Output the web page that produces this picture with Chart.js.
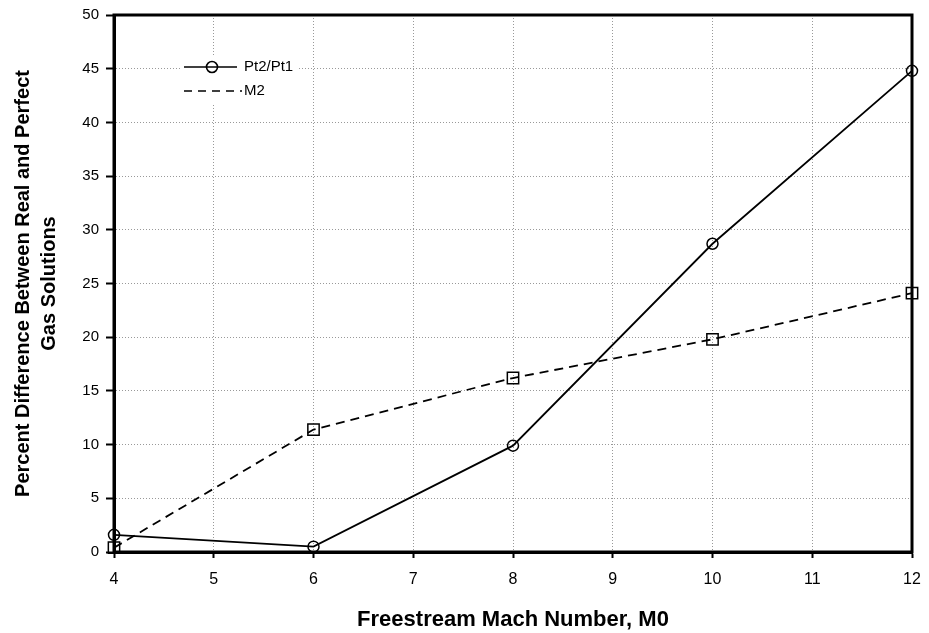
<!DOCTYPE html>
<html>
<head>
<meta charset="utf-8">
<script src="https://cdn.jsdelivr.net/npm/chart.js@4/dist/chart.umd.min.js"></script>
<style>
html,body{margin:0;padding:0;background:#fff;}
#wrap{width:929px;height:633px;position:relative;}
</style>
</head>
<body>
<div id="wrap"><canvas id="c" width="929" height="633"></canvas></div>
<script>
const machNumbers = [4, 6, 8, 10, 12];
const pt2pt1 = [1.6, 0.5, 9.9, 28.7, 44.8];
const m2 = [0.4, 11.4, 16.2, 19.8, 24.1];
const seriesNames = ['Pt2/Pt1', 'M2'];
const xTitle = 'Freestream Mach Number, M0';
const yTitle = ['Percent Difference Between Real and Perfect', 'Gas Solutions'];

const FONT = '"Liberation Sans", Arial, Helvetica, sans-serif';

const frame = {
  id: 'frame',
  afterDatasetsDraw(chart) {
    const a = chart.chartArea, ctx = chart.ctx;
    ctx.save();
    ctx.strokeStyle = '#000';
    ctx.lineWidth = 3;
    ctx.setLineDash([]);
    ctx.strokeRect(a.left, a.top, a.right - a.left, a.bottom - a.top);
    // legend
    const lx = 184, ly1 = 67, ly2 = 91;
    ctx.fillStyle = '#fff';
    ctx.fillRect(lx - 4, ly1 - 11, 118, 48);
    ctx.strokeStyle = '#000';
    ctx.lineWidth = 1.6;
    ctx.beginPath(); ctx.moveTo(lx, ly1); ctx.lineTo(lx + 53, ly1); ctx.stroke();
    ctx.beginPath(); ctx.arc(lx + 28, ly1, 5.5, 0, Math.PI * 2); ctx.stroke();
    ctx.setLineDash([8, 6]);
    ctx.beginPath(); ctx.moveTo(lx, ly2); ctx.lineTo(lx + 58, ly2); ctx.stroke();
    ctx.setLineDash([]);
    ctx.fillStyle = '#000';
    ctx.font = '15px ' + FONT;
    ctx.textBaseline = 'middle';
    ctx.textAlign = 'left';
    ctx.fillText(seriesNames[0], lx + 60, ly1);
    ctx.fillText(seriesNames[1], lx + 60, ly2);
    ctx.restore();
  }
};

new Chart(document.getElementById('c'), {
  type: 'line',
  data: {
    datasets: [
      {
        label: seriesNames[0],
        data: machNumbers.map((x, i) => ({x: x, y: pt2pt1[i]})),
        borderColor: '#000',
        borderWidth: 1.8,
        pointStyle: 'circle',
        pointRadius: 5.5,
        pointBorderWidth: 1.5,
        pointBorderColor: '#000',
        pointBackgroundColor: 'rgba(0,0,0,0)',
        tension: 0,
        clip: false
      },
      {
        label: seriesNames[1],
        data: machNumbers.map((x, i) => ({x: x, y: m2[i]})),
        borderColor: '#000',
        borderWidth: 1.8,
        borderDash: [9, 6],
        pointStyle: 'rect',
        pointRadius: 8,
        pointBorderWidth: 1.5,
        pointBorderColor: '#000',
        pointBackgroundColor: 'rgba(0,0,0,0)',
        tension: 0,
        clip: false
      }
    ]
  },
  options: {
    responsive: false,
    animation: false,
    devicePixelRatio: 1,
    layout: {padding: {left: 0, right: 17, top: 15, bottom: 0}},
    plugins: {legend: {display: false}, tooltip: {enabled: false}},
    scales: {
      x: {
        type: 'linear',
        min: 4, max: 12,
        ticks: {stepSize: 1, color: '#000', font: {family: FONT, size: 16}, padding: 12},
        grid: {color: '#999', lineWidth: 1, tickColor: '#000', tickLength: 6, tickWidth: 2, tickBorderDash: []},
        border: {display: true, color: '#000', width: 3, dash: [1, 2]},
        title: {display: true, text: xTitle, color: '#000', font: {family: FONT, size: 22, weight: 'bold'}, padding: {top: 10, bottom: 0}},
        afterFit(s) { s.height = 81; s.paddingRight = 0; s.paddingLeft = 0; }
      },
      y: {
        min: 0, max: 50,
        ticks: {stepSize: 5, color: '#000', font: {family: FONT, size: 15}, padding: 7},
        grid: {color: '#999', lineWidth: 1, tickColor: '#000', tickLength: 8, tickWidth: 2, tickBorderDash: []},
        border: {display: true, color: '#000', width: 3, dash: [1, 2]},
        title: {display: true, text: yTitle, color: '#000', font: {family: FONT, size: 20, weight: 'bold', lineHeight: 1.3}, padding: {top: 10, bottom: 4}},
        afterFit(s) { s.width = 114; s.paddingTop = 0; s.paddingBottom = 0; }
      }
    }
  },
  plugins: [frame]
});
</script>
</body>
</html>
